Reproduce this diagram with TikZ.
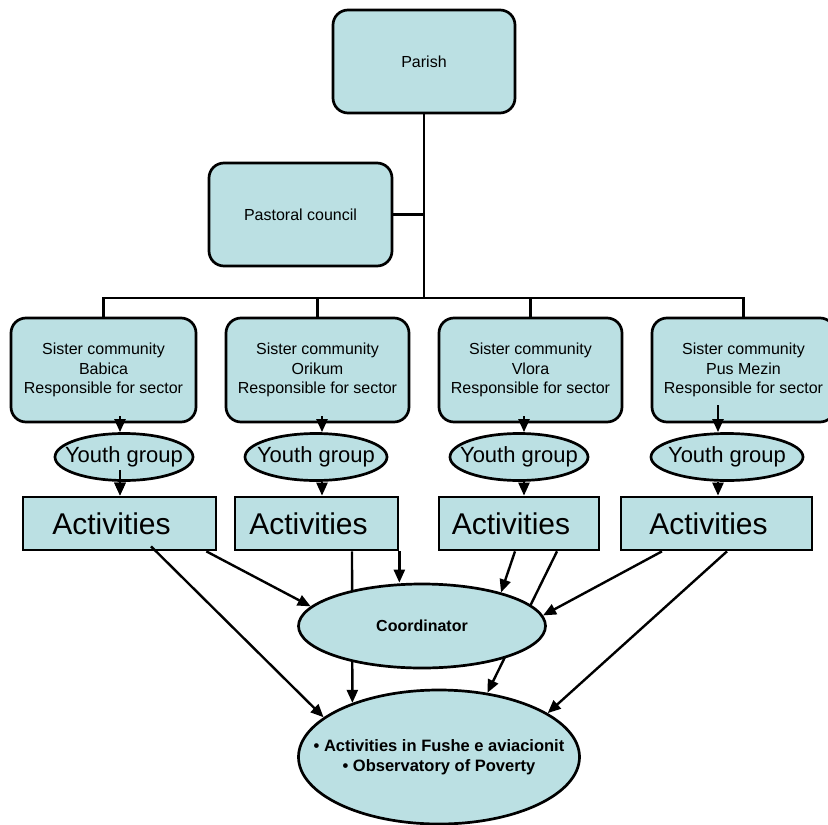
\documentclass[tikz,border=0pt]{standalone}
\usepackage{fontspec}
\setmainfont{Liberation Sans}
\usetikzlibrary{shapes.geometric,arrows.meta,backgrounds}
\definecolor{boxblue}{RGB}{187,224,227}

\begin{document}
\begin{tikzpicture}[x=1pt, y=-1pt,
  rbox/.style={draw, fill=boxblue, rounded corners=15pt, line width=2.7pt, align=center, font=\fontsize{16}{19.5}\selectfont},
  oval/.style={draw, ellipse, fill=boxblue, line width=2.7pt, inner sep=0pt, align=center},
  actbox/.style={draw, fill=boxblue, line width=2.7pt, minimum height=53pt, font=\fontsize{30}{36}\selectfont},
  link/.style={line width=2.4pt},
  arr/.style={link, -{Triangle[length=13pt, width=11pt]}}]
\useasboundingbox (0,0) rectangle (828,825);

\node[rbox, minimum width=182pt, minimum height=103pt] (parish) at (424, 61.5) {Parish};
\node[rbox, minimum width=183pt, minimum height=103pt] (pastoral) at (300.5, 214.5) {Pastoral council};

\node[rbox, minimum width=185pt, minimum height=104pt] (sis1) at (103.5, 370) {Sister community\\Babica\\Responsible for sector};
\node[rbox, minimum width=183pt, minimum height=104pt] (sis2) at (317.5, 370) {Sister community\\Orikum\\Responsible for sector};
\node[rbox, minimum width=183pt, minimum height=104pt] (sis3) at (530.5, 370) {Sister community\\Vlora\\Responsible for sector};
\node[rbox, minimum width=183pt, minimum height=104pt] (sis4) at (743.5, 370) {Sister community\\Pus Mezin\\Responsible for sector};

\node[oval, minimum width=138pt, minimum height=47pt, font=\fontsize{22}{26}\selectfont] (youth1) at (124, 457) {\makebox[0pt]{Youth group}};
\node[oval, minimum width=142pt, minimum height=47pt, font=\fontsize{22}{26}\selectfont] (youth2) at (316, 457) {\makebox[0pt]{Youth group}};
\node[oval, minimum width=138pt, minimum height=47pt, font=\fontsize{22}{26}\selectfont] (youth3) at (519, 457) {\makebox[0pt]{Youth group}};
\node[oval, minimum width=152pt, minimum height=47pt, font=\fontsize{22}{26}\selectfont] (youth4) at (727, 457) {\makebox[0pt]{Youth group}};

\node[actbox, minimum width=193pt] (act1) at (119.5, 523.5) {Activities\hspace*{16pt}};
\node[actbox, minimum width=163pt] (act2) at (316.5, 523.5) {Activities\hspace*{16pt}};
\node[actbox, minimum width=160pt] (act3) at (519, 523.5) {Activities\hspace*{16pt}};
\node[actbox, minimum width=191pt] (act4) at (716.5, 523.5) {Activities\hspace*{16pt}};

\node[oval, minimum width=247pt, minimum height=84pt, font=\bfseries\fontsize{16}{19}\selectfont] (coord) at (422, 626) {\makebox[0pt]{Coordinator}};
\node[oval, minimum width=281pt, minimum height=134pt, font=\bfseries\fontsize{16.5}{20}\selectfont] (goal) at (439, 757)
  {\makebox[0pt]{\raisebox{3pt}{\begin{tabular}{@{}c@{}}\textbullet\ Activities in Fushe e aviacionit\\\textbullet\ Observatory of Poverty\end{tabular}}}};

% tree from the parish
\coordinate (bus) at (424, 298);
\draw[link] (parish.south) -- (parish.south |- bus);
\draw[link] (pastoral.east) -- (pastoral.east -| parish.south);
\draw[link] (sis1.north) -- (sis1.north |- bus) -- (sis4.north |- bus) -- (sis4.north);
\draw[link] (sis2.north) -- (sis2.north |- bus);
\draw[link] (sis3.north) -- (sis3.north |- bus);

% sister community -> youth group -> activities
\foreach \i/\s/\u/\t in {1/16.5/7/-4, 2/4.5/7/6, 3/-6.5/7/5, 4/-25.5/18/-9} {
  \draw[arr] ([xshift=\s pt, yshift=\u pt]sis\i.south) -- ([xshift=\s pt]sis\i.south |- youth\i.north);
  \draw[arr] ([xshift=\t pt]youth\i.south) -- ([xshift=\t pt]youth\i.south |- act\i.north);
}
\draw[arr] ([xshift=-4pt, yshift=12pt]youth1.south) -- ([xshift=-4pt]youth1.south |- act1.north);

% activities -> coordinator and results
\draw[arr] ([xshift=31.5pt, yshift=5pt]act1.south) -- (goal.161);
\draw[arr] ([xshift=-11pt]act1.south east) -- (coord.170);
\draw[arr] (act2.south east) -- (act2.south east |- coord.north);
\draw[arr] ([xshift=-4pt]act3.south) -- (coord.23);
\draw[arr] ([xshift=-54.5pt]act4.south) -- (coord.5);
\draw[arr] ([xshift=10.5pt]act4.south) -- (goal.22);
\begin{pgfonlayer}{background}
\draw[arr] ([xshift=35.5pt]act2.south) -- (goal.148);
\draw[arr] ([xshift=38pt]act3.south) -- (goal.53);
\end{pgfonlayer}
\end{tikzpicture}
\end{document}
